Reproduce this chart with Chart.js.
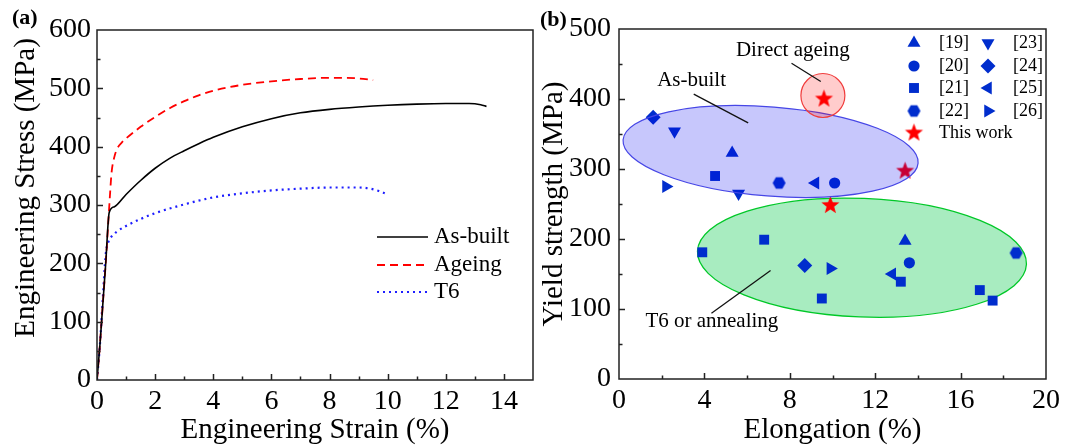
<!DOCTYPE html>
<html>
<head>
<meta charset="utf-8">
<script src="https://cdn.jsdelivr.net/npm/chart.js@4.4.1/dist/chart.umd.min.js"></script>
<style>
  body { margin: 0; background: #fff; }
  #wrap { display: flex; width: 1072px; height: 445px; }
  canvas { display: block; }
</style>
</head>
<body>
<div id="wrap">
  <canvas id="grafA" width="540" height="445"></canvas>
  <canvas id="grafB" width="532" height="445"></canvas>
</div>
<script>
// ---- (a) curvas tensao-deformacao ----
const strainAsBuilt = [0, 0.1, 0.2, 0.3, 0.42, 0.6, 1, 1.5, 2, 2.5, 3, 3.5, 4, 5, 6, 7, 8, 9, 10, 11, 12, 12.8, 13.2, 13.4];
const stressAsBuilt = [0, 60, 130, 200, 287, 297, 318, 342, 363, 380, 393, 405, 416, 434, 448, 458, 464, 468, 471, 473, 474, 474, 472, 469];

const strainAgeing = [0, 0.1, 0.2, 0.3, 0.4, 0.45, 0.5, 0.6, 0.7, 0.85, 1, 1.5, 2, 2.5, 3, 3.5, 4, 5, 6, 7, 8, 8.5, 9, 9.5];
const stressAgeing = [0, 60, 130, 200, 280, 320, 355, 383, 397, 407, 414, 434, 451, 466, 478, 488, 496, 506, 512, 516, 518, 518, 517, 514];

const strainT6 = [0, 0.1, 0.2, 0.3, 0.4, 0.5, 0.7, 1, 1.5, 2, 3, 4, 5, 6, 7, 8, 9, 9.4, 9.7, 9.9];
const stressT6 = [0, 60, 140, 215, 238, 246, 255, 264, 276, 286, 301, 313, 320, 325, 328, 330, 330, 328, 324, 320];

// ---- (b) limite de escoamento x alongamento ----
const ref19X = [5.3, 13.4];   const ref19Y = [323, 197];
const ref20X = [10.1, 13.6];  const ref20Y = [280, 166];
const ref21X = [4.5, 3.9, 6.8, 9.5, 13.2, 16.9, 17.5];
const ref21Y = [290, 181, 199, 115, 139, 127, 112];
const ref22X = [7.5, 18.6];   const ref22Y = [280, 180];
const ref23X = [2.6, 5.6];    const ref23Y = [354, 265];
const ref24X = [1.6, 8.7];    const ref24Y = [374, 162];
const ref25X = [9.2, 12.8];   const ref25Y = [280, 150];
const ref26X = [2.2, 9.9];    const ref26Y = [275, 158];
const thisWorkX = [9.6, 13.4, 9.9];
const thisWorkY = [400, 297, 248];

// regioes (centro, semi-eixos em unidades dos dados, inclinacao em graus)
const regiaoAsBuilt = [7.1, 325, 6.93, 63.7, 4.5];
const regiaoT6 = [11.38, 173.3, 7.71, 84.7, 2.3];
const regiaoDireta = [9.55, 405, 1.03, 31.4, 0];

const azul = 'rgb(0, 45, 205)';
const vermelho = 'rgb(255, 0, 0)';
const serif = "'Liberation Serif', 'Times New Roman', serif";

Chart.defaults.color = '#000';
Chart.defaults.font.family = serif;

function juntar(xs, ys) {
  return xs.map((v, i) => ({ x: v, y: ys[i] }));
}

// marcadores que o Chart.js nao tem
function fazerHexagono(r, cor) {
  const c = document.createElement('canvas');
  c.width = c.height = Math.ceil(2 * r + 2);
  const g = c.getContext('2d');
  g.fillStyle = cor;
  g.beginPath();
  for (let i = 0; i < 6; i++) {
    const ang = Math.PI / 3 * i;
    g.lineTo(c.width / 2 + r * Math.cos(ang), c.height / 2 + r * Math.sin(ang));
  }
  g.closePath();
  g.fill();
  return c;
}

function fazerEstrela(r, cor) {
  const c = document.createElement('canvas');
  c.width = c.height = Math.ceil(2 * r + 2);
  const g = c.getContext('2d');
  g.fillStyle = cor;
  g.beginPath();
  for (let i = 0; i < 10; i++) {
    const rr = i % 2 === 0 ? r : r * 0.42;
    const ang = -Math.PI / 2 + Math.PI / 5 * i;
    g.lineTo(c.width / 2 + rr * Math.cos(ang), c.height / 2 + rr * Math.sin(ang));
  }
  g.closePath();
  g.fill();
  return c;
}

const hexagono = fazerHexagono(6.5, azul);
const estrela = fazerEstrela(9.5, vermelho);

// moldura + ticks para dentro
const molduraPlugin = {
  id: 'moldura',
  afterDraw(chart, args, opts) {
    const { ctx, chartArea: a, scales: { x, y } } = chart;
    ctx.save();
    ctx.strokeStyle = '#222';
    ctx.lineWidth = 1.5;
    ctx.strokeRect(a.left, a.top, a.right - a.left, a.bottom - a.top);
    ctx.beginPath();
    for (let v = x.min + opts.xMinor; v < x.max - 1e-9; v += opts.xMinor) {
      const px = Math.round(x.getPixelForValue(v)) + 0.5;
      const major = Math.abs(v / opts.xMajor - Math.round(v / opts.xMajor)) < 1e-6;
      ctx.moveTo(px, a.bottom);
      ctx.lineTo(px, a.bottom - (major ? 6 : 3.5));
    }
    for (let v = y.min + opts.yMinor; v < y.max - 1e-9; v += opts.yMinor) {
      const py = Math.round(y.getPixelForValue(v)) + 0.5;
      const major = Math.abs(v / opts.yMajor - Math.round(v / opts.yMajor)) < 1e-6;
      ctx.moveTo(a.left, py);
      ctx.lineTo(a.left + (major ? 6 : 3.5), py);
    }
    ctx.stroke();
    // letra do painel
    ctx.fillStyle = '#000';
    ctx.font = 'bold 22px ' + serif;
    ctx.textBaseline = 'middle';
    ctx.textAlign = 'left';
    ctx.fillText(opts.letra, opts.letraX, opts.letraY);
    ctx.restore();
  }
};

// ---------------- grafico (a) ----------------
const legendaA = {
  id: 'legendaA',
  afterDraw(chart) {
    const { ctx } = chart;
    ctx.save();
    const linhas = [237, 265, 292];
    chart.data.datasets.forEach((ds, i) => {
      ctx.strokeStyle = ds.borderColor;
      ctx.lineWidth = ds.borderWidth;
      ctx.setLineDash(ds.borderDash || []);
      ctx.beginPath();
      ctx.moveTo(377, linhas[i]);
      ctx.lineTo(428, linhas[i]);
      ctx.stroke();
      ctx.setLineDash([]);
      ctx.fillStyle = '#000';
      ctx.font = '23px ' + serif;
      ctx.textBaseline = 'middle';
      ctx.fillText(ds.label, 434, linhas[i]);
    });
    // titulo do eixo y (deslocado para cima como no original)
    ctx.translate(26, 188);
    ctx.rotate(-Math.PI / 2);
    ctx.font = '29px ' + serif;
    ctx.textAlign = 'center';
    ctx.textBaseline = 'middle';
    ctx.fillText('Engineering Stress (MPa)', 0, 0);
    ctx.restore();
  }
};

new Chart(document.getElementById('grafA'), {
  type: 'scatter',
  data: {
    datasets: [
      {
        label: 'As-built',
        data: juntar(strainAsBuilt, stressAsBuilt),
        showLine: true,
        borderColor: '#000',
        borderWidth: 1.6,
        pointRadius: 0,
        cubicInterpolationMode: 'monotone'
      },
      {
        label: 'Ageing',
        data: juntar(strainAgeing, stressAgeing),
        showLine: true,
        borderColor: vermelho,
        borderWidth: 1.8,
        borderDash: [8, 5],
        pointRadius: 0,
        cubicInterpolationMode: 'monotone'
      },
      {
        label: 'T6',
        data: juntar(strainT6, stressT6),
        showLine: true,
        borderColor: 'rgb(30, 30, 255)',
        borderWidth: 2.2,
        borderDash: [2, 4],
        pointRadius: 0,
        cubicInterpolationMode: 'monotone'
      }
    ]
  },
  options: {
    responsive: false,
    animation: false,
    layout: { padding: { top: 30, right: 7, left: 0, bottom: 0 } },
    plugins: {
      legend: { display: false },
      tooltip: { enabled: false },
      moldura: { xMajor: 2, xMinor: 1, yMajor: 100, yMinor: 50, letra: '(a)', letraX: 12, letraY: 18 }
    },
    scales: {
      x: {
        type: 'linear',
        min: 0, max: 15,
        grid: { display: false, drawTicks: false },
        border: { display: false },
        ticks: { stepSize: 2, includeBounds: false, autoSkip: false, maxRotation: 0, padding: 5, font: { size: 28 } },
        title: { display: true, text: 'Engineering Strain (%)', font: { size: 29, lineHeight: 1 }, padding: 0 },
        afterFit(s) { s.height = 65; }
      },
      y: {
        min: 0, max: 600,
        grid: { display: false, drawTicks: false },
        border: { display: false },
        ticks: { stepSize: 100, autoSkip: false, padding: 6, font: { size: 28 } },
        afterFit(s) { s.width = 97; }
      }
    }
  },
  plugins: [molduraPlugin, legendaA]
});

// ---------------- grafico (b) ----------------
function elipse(chart, reg, fill, stroke, lw) {
  const { ctx, scales: { x, y } } = chart;
  const cx = x.getPixelForValue(reg[0]);
  const cy = y.getPixelForValue(reg[1]);
  const rx = Math.abs(x.getPixelForValue(reg[0] + reg[2]) - cx);
  const ry = Math.abs(y.getPixelForValue(reg[1] + reg[3]) - cy);
  ctx.save();
  ctx.beginPath();
  ctx.ellipse(cx, cy, rx, ry, reg[4] * Math.PI / 180, 0, 2 * Math.PI);
  ctx.fillStyle = fill;
  ctx.fill();
  ctx.strokeStyle = stroke;
  ctx.lineWidth = lw;
  ctx.stroke();
  ctx.restore();
}

function nota(chart, texto, tx, ty, x1, y1, x2, y2) {
  const { ctx, scales: { x, y } } = chart;
  ctx.save();
  ctx.strokeStyle = '#111';
  ctx.lineWidth = 1.3;
  ctx.beginPath();
  ctx.moveTo(x.getPixelForValue(x1), y.getPixelForValue(y1));
  ctx.lineTo(x.getPixelForValue(x2), y.getPixelForValue(y2));
  ctx.stroke();
  ctx.fillStyle = '#000';
  ctx.font = '21px ' + serif;
  ctx.textAlign = 'center';
  ctx.textBaseline = 'middle';
  ctx.fillText(texto, x.getPixelForValue(tx), y.getPixelForValue(ty));
  ctx.restore();
}

const regioesPlugin = {
  id: 'regioes',
  beforeDatasetsDraw(chart) {
    elipse(chart, regiaoT6, 'rgba(0, 200, 70, 0.34)', 'rgb(0, 200, 40)', 1.3);
  },
  afterDatasetsDraw(chart) {
    elipse(chart, regiaoAsBuilt, 'rgba(0, 0, 240, 0.22)', 'rgb(70, 70, 230)', 1.2);
    elipse(chart, regiaoDireta, 'rgba(255, 0, 0, 0.2)', 'rgb(240, 60, 60)', 1.2);
    nota(chart, 'Direct ageing', 8.14, 470, 8.08, 451, 9.45, 425);
    nota(chart, 'As-built', 3.4, 426, 3.5, 407, 6.05, 366);
    nota(chart, 'T6 or annealing', 4.35, 82, 4.33, 94, 7.1, 155);
  }
};

const legendaB = {
  id: 'legendaB',
  afterDraw(chart) {
    const { ctx } = chart;
    const linhas = [43, 66, 88, 111];
    const off = 540;
    ctx.save();
    ctx.font = '18px ' + serif;
    ctx.fillStyle = '#000';
    ctx.textBaseline = 'middle';
    chart.data.datasets.forEach((ds, i) => {
      let sx, tx, ly;
      if (i === 8) { sx = 914; tx = 939; ly = 133; }
      else { sx = i < 4 ? 914 : 988; tx = i < 4 ? 939 : 1013; ly = linhas[i % 4]; }
      ctx.fillStyle = ds.backgroundColor;
      Chart.helpers.drawPoint(ctx, {
        pointStyle: ds.pointStyle, radius: ds.pointRadius, rotation: ds.pointRotation || 0, borderWidth: 0
      }, sx - off, ly);
      ctx.fillStyle = '#000';
      ctx.fillText(ds.label, tx - off, ly);
    });
    ctx.restore();
  }
};

function serie(label, xs, ys, estilo, raio, rot, cor) {
  return {
    label: label,
    data: juntar(xs, ys),
    pointStyle: estilo,
    pointRadius: raio,
    pointRotation: rot,
    backgroundColor: cor,
    borderColor: cor,
    borderWidth: 0
  };
}

new Chart(document.getElementById('grafB'), {
  type: 'scatter',
  data: {
    datasets: [
      serie('[19]', ref19X, ref19Y, 'triangle', 7.5, 0, azul),
      serie('[20]', ref20X, ref20Y, 'circle', 5.6, 0, azul),
      serie('[21]', ref21X, ref21Y, 'rect', 7, 0, azul),
      serie('[22]', ref22X, ref22Y, hexagono, 6.5, 0, azul),
      serie('[23]', ref23X, ref23Y, 'triangle', 7.5, 180, azul),
      serie('[24]', ref24X, ref24Y, 'rectRot', 7.5, 0, azul),
      serie('[25]', ref25X, ref25Y, 'triangle', 7.5, 270, azul),
      serie('[26]', ref26X, ref26Y, 'triangle', 7.5, 90, azul),
      serie('This work', thisWorkX, thisWorkY, estrela, 9.5, 0, vermelho)
    ]
  },
  options: {
    responsive: false,
    animation: false,
    layout: { padding: { top: 29, right: 26, left: 0, bottom: 0 } },
    plugins: {
      legend: { display: false },
      tooltip: { enabled: false },
      moldura: { xMajor: 4, xMinor: 2, yMajor: 100, yMinor: 50, letra: '(b)', letraX: 0, letraY: 20 }
    },
    scales: {
      x: {
        type: 'linear',
        min: 0, max: 20,
        grid: { display: false, drawTicks: false },
        border: { display: false },
        ticks: { stepSize: 4, autoSkip: false, maxRotation: 0, padding: 5, font: { size: 28 } },
        title: { display: true, text: 'Elongation (%)', font: { size: 29, lineHeight: 1 }, padding: 0 },
        afterFit(s) { s.height = 66; }
      },
      y: {
        min: 0, max: 500,
        grid: { display: false, drawTicks: false },
        border: { display: false },
        ticks: { stepSize: 100, autoSkip: false, padding: 8, font: { size: 28 } },
        title: { display: true, text: 'Yield strength (MPa)', font: { size: 29, lineHeight: 1 }, padding: 0 },
        afterFit(s) { s.width = 79; }
      }
    }
  },
  plugins: [regioesPlugin, molduraPlugin, legendaB]
});
</script>
</body>
</html>
